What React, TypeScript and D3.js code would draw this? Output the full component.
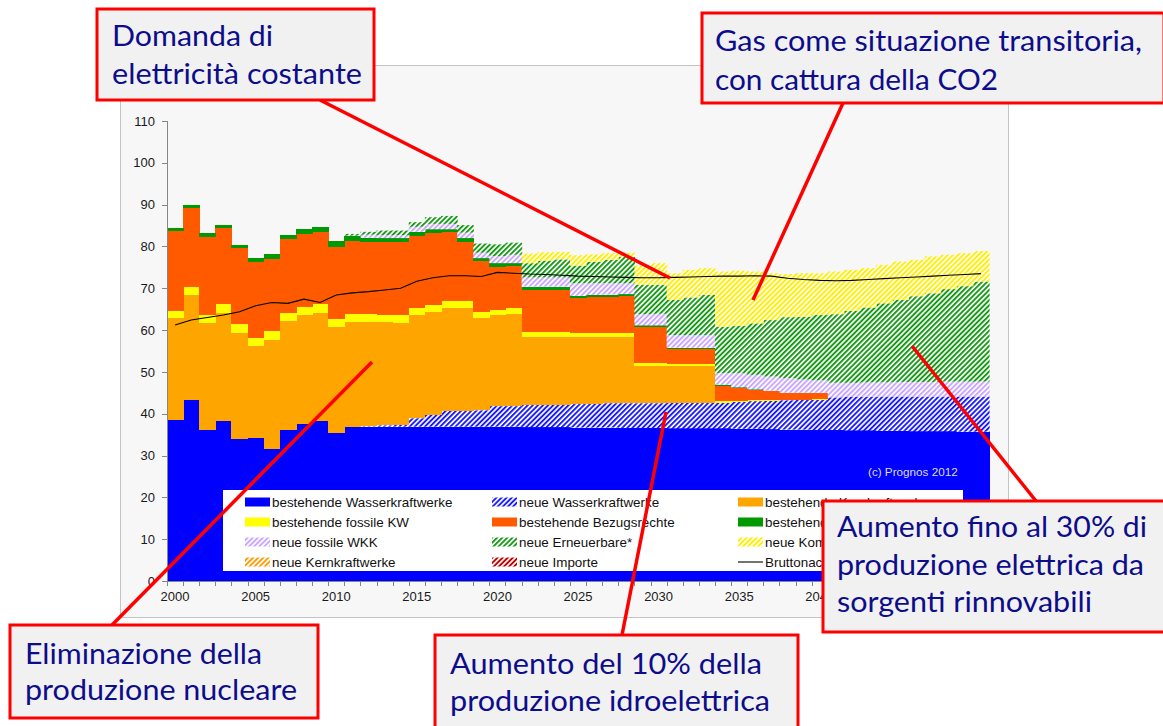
import React from 'react';
import * as d3 from 'd3';

const years = d3.range(2000, 2051);

// TWh per year
const bestehendeWasser = [38.5, 43.3, 36.1, 38.3, 34.0, 34.2, 31.5, 36.1, 37.5, 38.3, 35.5,
  36.9, 36.9, 36.9, 36.9, 36.9, 36.9, 36.9, 36.9, 36.9, 36.9, 36.9,
  36.8, 36.8, 36.8, 36.7, 36.7, 36.7, 36.6, 36.6, 36.6, 36.5, 36.5, 36.5, 36.5,
  36.4, 36.4, 36.3, 36.2, 36.2, 36.1, 36.1, 36.0, 36.0, 35.9, 35.9, 35.8, 35.8, 35.8, 35.7, 35.7];
const neueWasser = [0, 0, 0, 0, 0, 0, 0, 0, 0, 0, 0, 0,
  0.1, 0.3, 0.5, 2.0, 2.8, 3.8, 3.8, 3.9, 4.9, 4.9, 5.3, 5.3, 5.3, 5.6, 5.7, 5.8, 5.9, 5.9, 5.9,
  6.1, 6.1, 6.1, 6.1, 6.4, 6.6, 6.8, 7.0, 7.1, 7.3, 7.8, 8.0, 8.0, 8.2, 8.2, 8.3, 8.3, 8.3, 8.4, 8.4];
const bestehendeKern = [24.3, 25.1, 25.7, 25.7, 25.4, 22.1, 26.1, 26.1, 26.2, 25.9, 25.2,
  25.1, 25.0, 24.7, 24.4, 24.7, 24.7, 24.7, 24.7, 22.0, 21.8, 22.0,
  16.3, 16.3, 16.3, 16.0, 15.9, 15.8, 15.8, 9.0, 9.0, 8.9, 8.9, 8.9,
  0, 0, 0, 0, 0, 0, 0, 0, 0, 0, 0, 0, 0, 0, 0, 0, 0];
const bestehendeFossile = [1.8, 1.8, 1.8, 2.2, 2.0, 1.9, 2.3, 2.0, 1.9, 2.0, 1.9,
  1.8, 1.8, 1.8, 1.8, 1.6, 1.6, 1.6, 1.6, 1.6, 1.2, 1.4, 1.2, 1.2, 1.2, 0.9, 0.9, 0.9, 0.9,
  0.7, 0.7, 0.5, 0.5, 0.5, 0.4, 0.3, 0.2, 0.2, 0.1, 0.1, 0.1,
  0, 0, 0, 0, 0, 0, 0, 0, 0, 0];
const bestehendeBezugsrechte = [19.1, 18.9, 18.7, 18.1, 18.2, 18.0, 17.2, 17.5, 17.4, 17.2, 17.3,
  17.5, 17.2, 17.3, 17.5, 17.3, 17.1, 16.4, 14.0, 12.1, 10.4, 10.1, 10.0, 10.0, 10.0,
  8.4, 8.6, 8.8, 8.9, 8.6, 8.6, 3.4, 3.4, 3.4, 3.6, 3.0, 2.5, 2.1, 1.6, 1.5, 1.4,
  0, 0, 0, 0, 0, 0, 0, 0, 0, 0];
const bestehendeErneuerbare = [0.6, 0.8, 1.0, 0.8, 0.7, 1.1, 1.1, 1.0, 1.1, 1.3, 1.4,
  1.2, 1.1, 1.0, 0.9, 1.0, 1.0, 0.7, 1.0, 0.7, 0.8, 0.7, 0.8, 0.8, 0.8, 0.6, 0.6, 0.5, 0.5,
  0.3, 0.3, 0.4, 0.4, 0.4, 0.3, 0.2, 0.1, 0.1, 0.1, 0.1, 0.1,
  0, 0, 0, 0, 0, 0, 0, 0, 0, 0];
const neueFossileWKK = [0, 0, 0, 0, 0, 0, 0, 0, 0, 0, 0,
  0.1, 0.7, 0.7, 0.7, 1.2, 1.3, 1.3, 1.3, 1.3, 1.7, 2.0, 2.2, 2.2, 2.2, 3.0, 2.8, 2.7, 2.6,
  2.7, 2.8, 3.0, 3.0, 3.0, 2.8, 3.4, 3.5, 3.4, 3.5, 3.2, 3.0,
  3.5, 3.4, 3.5, 3.4, 3.5, 3.5, 3.5, 3.6, 3.6, 3.6];
const neueErneuerbare = [0, 0, 0, 0, 0, 0, 0, 0, 0, 0, 0,
  0.4, 0.7, 1.1, 1.1, 1.1, 1.6, 1.9, 1.8, 2.2, 2.8, 2.9, 3.4, 4.0, 4.3, 4.2, 5.1, 5.6, 6.3,
  7.0, 6.9, 8.4, 9.0, 9.6, 11.1, 11.3, 12.3, 13.5, 14.6, 15.0, 15.6,
  16.4, 17.2, 17.9, 18.9, 19.6, 20.5, 21.2, 22.1, 22.8, 23.9];
const neueKombi = [0, 0, 0, 0, 0, 0, 0, 0, 0, 0, 0, 0, 0, 0, 0, 0, 0, 0, 0, 0, 0, 0,
  2.3, 2.0, 1.8, 2.5, 1.8, 1.6, 1.0, 4.6, 5.2, 6.4, 6.6, 6.4,
  13.2, 13.2, 12.4, 11.2, 10.3, 10.4, 10.0, 10.2, 9.8, 9.4, 9.2, 9.2, 8.7, 8.8, 8.2, 7.9, 7.3];
const neueKern = years.map(() => 0);
const neueImporte = years.map(() => 0);
const bruttonachfrage = [61.2, 62.4, 63.0, 63.6, 64.4, 65.8, 66.6, 66.4, 67.4, 66.6, 68.4,
  68.9, 69.2, 69.6, 70.0, 71.7, 72.5, 73.0, 73.0, 72.8, 73.8, 73.6, 73.4, 73.3, 73.1,
  72.9, 72.8, 72.7, 72.6, 72.5, 72.5, 72.6, 72.7, 72.8, 72.9, 72.9, 73.0, 72.9,
  72.4, 72.1, 71.9, 71.8, 71.9, 72.1, 72.3, 72.5, 72.7, 72.9, 73.1, 73.3, 73.5];

const yTicks = [0, 10, 20, 30, 40, 50, 60, 70, 80, 90, 100, 110];
const xLabels = [2000, 2005, 2010, 2015, 2020, 2025, 2030, 2035, 2040, 2045, 2050];

// stack order = Excel series order
const series = [
  { key: 'bW', label: 'bestehende Wasserkraftwerke', values: bestehendeWasser, color: '#0000ff', hatch: false },
  { key: 'nW', label: 'neue Wasserkraftwerke', values: neueWasser, color: '#1a1aff', hatch: true },
  { key: 'bK', label: 'bestehende Kernkraftwerke', values: bestehendeKern, color: '#ffa500', hatch: false },
  { key: 'bF', label: 'bestehende fossile KW', values: bestehendeFossile, color: '#ffff00', hatch: false },
  { key: 'bB', label: 'bestehende Bezugsrechte', values: bestehendeBezugsrechte, color: '#ff5a00', hatch: false },
  { key: 'bE', label: 'bestehende Erneuerbare', values: bestehendeErneuerbare, color: '#009900', hatch: false },
  { key: 'nF', label: 'neue fossile WKK', values: neueFossileWKK, color: '#c9a6ff', hatch: true },
  { key: 'nE', label: 'neue Erneuerbare*', values: neueErneuerbare, color: '#169a16', hatch: true },
  { key: 'nKo', label: 'neue Kombikraftwerke', values: neueKombi, color: '#ffee00', hatch: true },
  { key: 'nK', label: 'neue Kernkraftwerke', values: neueKern, color: '#ff9900', hatch: true },
  { key: 'nI', label: 'neue Importe', values: neueImporte, color: '#c00000', hatch: true },
];

const legendOrder = [['bW', 'nW', 'bK'], ['bF', 'bB', 'bE'], ['nF', 'nE', 'nKo'], ['nK', 'nI', 'line']];

const notes = [
  { box: [97, 9, 277, 91], lines: [['Domanda di', 112, 46, 161], ['elettricità  costante', 112, 84, 250]],
    link: [320, 100, 670, 278] },
  { box: [702, 13, 462, 90], lines: [['Gas come situazione transitoria,', 715, 51, 427], ['con cattura della CO2', 715, 90, 283]],
    link: [843, 103, 753, 300] },
  { box: [823, 501, 342, 131], lines: [['Aumento fino al 30% di', 837, 537, 310], ['produzione elettrica da', 837, 575, 307], ['sorgenti rinnovabili', 837, 612, 255]],
    link: [912, 346, 1036, 501] },
  { box: [10, 625, 308, 93], lines: [['Eliminazione della', 25, 664, 237], ['produzione nucleare', 25, 700, 272]],
    link: [372, 362, 112, 625] },
  { box: [435, 635, 363, 100], lines: [['Aumento del 10%  della', 450, 674, 312], ['produzione idroelettrica', 450, 711, 320]],
    link: [666, 412, 622, 635] },
];

export default function App() {
  const x = d3.scaleBand<number>().domain(years).range([167, 989]).padding(0);
  const y = d3.scaleLinear().domain([0, 110]).range([581, 121]);

  const table = years.map((yr, i) => {
    const row: any = { year: yr };
    series.forEach(s => { row[s.key] = s.values[i]; });
    return row;
  });
  const stacked = d3.stack<any>().keys(series.map(s => s.key))(table);

  const line = d3.line<number>()
    .x((d, i) => (x(years[i]) as number) + x.bandwidth() / 2)
    .y(d => y(d));

  const fillOf = (s: any) => (s.hatch ? `url(#hatch-${s.key})` : s.color);
  const byKey: any = {};
  series.forEach(s => { byKey[s.key] = s; });

  const legendCols = [245, 492, 738];
  const legendRows = [502, 522, 542, 562];

  return (
    <svg width={1163} height={726} style={{ position: 'absolute', left: 0, top: 0, background: '#fff' }}
      fontFamily="'Liberation Sans', Arial, sans-serif">
      <defs>
        {series.filter(s => s.hatch).map(s => (
          <pattern key={s.key} id={`hatch-${s.key}`} patternUnits="userSpaceOnUse"
            width={3.6} height={3.6} patternTransform="rotate(45)">
            <rect width={3.6} height={3.6} fill="#ffffff" />
            <rect width={1.9} height={3.6} fill={s.color} />
          </pattern>
        ))}
      </defs>

      {/* chart area */}
      <rect x={120.5} y={65.5} width={888} height={552} fill="#f7f7f7" stroke="#c4c4c4" />

      {/* bars */}
      {stacked.map((layer, li) => {
        const s = series[li];
        return (
          <g key={layer.key} fill={fillOf(s)} shapeRendering={s.hatch ? 'auto' : 'crispEdges'}>
            {layer.map((d, i) => {
              const h = y(d[0]) - y(d[1]);
              if (h <= 0.01) return null;
              return (
                <rect key={i} x={x(years[i]) as number} y={y(d[1])}
                  width={x.bandwidth() + 0.6} height={h} />
              );
            })}
          </g>
        );
      })}

      {/* demand line */}
      <path d={line(bruttonachfrage) || ''} fill="none" stroke="#000" strokeWidth={1.1} />

      {/* axes */}
      <g stroke="#868686" strokeWidth={1}>
        <line x1={167.5} x2={167.5} y1={121} y2={581} />
        <line x1={167} x2={989} y1={581.5} y2={581.5} />
        {yTicks.map(t => (
          <line key={t} x1={162} x2={167.5} y1={Math.round(y(t)) + 0.5} y2={Math.round(y(t)) + 0.5} />
        ))}
        {years.concat([2051]).map((yr, i) => {
          const xx = Math.round(167 + i * x.bandwidth()) + 0.5;
          return <line key={yr} x1={xx} x2={xx} y1={581} y2={586} />;
        })}
      </g>
      <g fontSize={13} fill="#1a1a1a">
        {yTicks.map(t => (
          <text key={t} x={155} y={y(t)} dy="0.36em" textAnchor="end">{t}</text>
        ))}
        {xLabels.map(yr => (
          <text key={yr} x={(x(yr) as number) + x.bandwidth() / 2} y={601} textAnchor="middle">{yr}</text>
        ))}
      </g>

      <text x={868} y={476} fontSize={11.7} fill="#dcdcf0">(c) Prognos 2012</text>

      {/* legend */}
      <rect x={223} y={490} width={740} height={81} fill="#ffffff" />
      <g fontSize={13.4} fill="#111">
        {legendOrder.map((row, ri) => row.map((k, ci) => {
          const lx = legendCols[ci];
          const ly = legendRows[ri];
          if (k === 'line') {
            return (
              <g key={k}>
                <line x1={lx} x2={lx + 25} y1={ly} y2={ly} stroke="#000" strokeWidth={1.1} />
                <text x={lx + 27} y={ly + 4.7}>Bruttonachfrage</text>
              </g>
            );
          }
          const s = byKey[k];
          return (
            <g key={k}>
              <rect x={lx} y={ly - 4.5} width={25} height={9} fill={fillOf(s)} />
              <text x={lx + 27} y={ly + 4.7}>{s.label}</text>
            </g>
          );
        }))}
      </g>

      {/* annotations */}
      {notes.map((n, i) => (
        <line key={i} x1={n.link[0]} y1={n.link[1]} x2={n.link[2]} y2={n.link[3]} stroke="#ff0000" strokeWidth={3.5} />
      ))}
      {notes.map((n, i) => (
        <g key={'b' + i}>
          <rect x={n.box[0]} y={n.box[1]} width={n.box[2]} height={n.box[3]}
            fill="#f1f1f1" stroke="#ff0000" strokeWidth={3} />
          {n.lines.map((l: any, j: number) => (
            <text key={j} x={l[1]} y={l[2]} fontSize={28} fill="#0d0d8c"
              fontFamily="Lato, 'Open Sans', sans-serif"
              textLength={l[3]} lengthAdjust="spacingAndGlyphs">{l[0]}</text>
          ))}
        </g>
      ))}
    </svg>
  );
}
